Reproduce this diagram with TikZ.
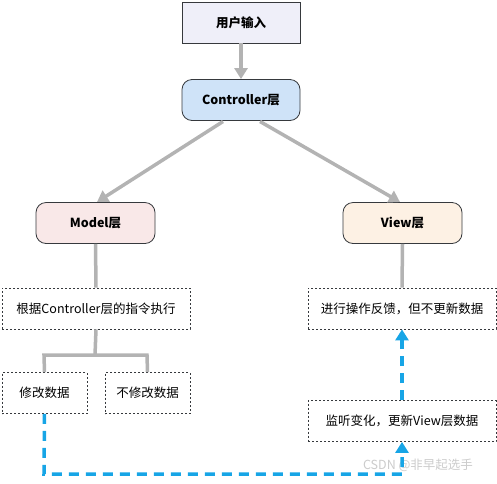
\documentclass[tikz,border=0pt]{standalone}
\usepackage{fontspec}
\setmainfont{Noto Sans CJK SC}
\usetikzlibrary{arrows.meta,calc}
\definecolor{conn}{HTML}{B3B3B3}
\definecolor{blu}{HTML}{17A5E6}
\definecolor{bord}{HTML}{36393D}
\definecolor{fuser}{HTML}{EFEFF9}
\definecolor{fctrl}{HTML}{CFE3F8}
\definecolor{fmodel}{HTML}{F9E8E8}
\definecolor{fview}{HTML}{FDF1E4}
\tikzset{
  box/.style={draw=bord, line width=0.8pt, minimum height=41pt, inner sep=0pt, font=\fontsize{12.5}{14}\selectfont\bfseries},
  rbox/.style={box, rounded corners=10pt},
  dbox/.style={draw=bord, line width=0.8pt, dash pattern=on 2pt off 2pt, minimum height=41pt, inner sep=0pt, font=\fontsize{12.5}{14}\selectfont},
  gline/.style={draw=conn, line width=3.5pt},
  garrow/.style={gline, -{Triangle[length=11pt,width=13pt]}},
  bline/.style={draw=blu, line width=3.5pt, dash pattern=on 10pt off 7pt},
  barrow/.style={bline, -{Triangle[length=11pt,width=13pt]}},
}
\begin{document}
\begin{tikzpicture}[x=1pt,y=-1pt]
\useasboundingbox (0,0) rectangle (497,483);
\node[box, fill=fuser, minimum width=118pt] (user) at (241,22.5) {用户输入};
\node[rbox, fill=fctrl, minimum width=118pt] (ctrl) at (241,100) {Controller层};
\node[rbox, fill=fmodel, minimum width=119pt] (model) at (95.5,223) {Model层};
\node[rbox, fill=fview, minimum width=119pt] (view) at (402.5,223) {View层};
\node[dbox, minimum width=188pt] (exec) at (96,308.5) {根据Controller层的指令执行};
\node[dbox, minimum width=188pt] (feed) at (402,308.5) {进行操作反馈，但不更新数据};
\node[dbox, minimum width=85pt] (mod) at (44.5,393) {修改数据};
\node[dbox, minimum width=85pt] (nomod) at (147.5,393) {不修改数据};
\node[dbox, minimum width=188pt] (listen) at (402,421) {监听变化，更新View层数据};
\node[text=black!25, opacity=0.8, font=\fontsize{12.5}{14}\selectfont, inner sep=0pt] (wm) at (418,465) {CSDN @非早起选手};
\coordinate (cl) at (223,121.5);
\coordinate (cr) at (260,121.5);
\coordinate (mt) at (97,202);
\coordinate (vt) at (400,202);
\coordinate (br) at (95,355);
\coordinate (bl) at (44,355);
\coordinate (bR) at (147,355);
\coordinate (bcorner) at (44,474);
\coordinate (bend) at (402,474);
\draw[garrow] (user.south) -- (ctrl.north);
\draw[garrow] (cl) -- (mt);
\draw[garrow] (cr) -- (vt);
\draw[gline] (model.south) -- (exec.north);
\draw[gline] (view.south) -- (feed.north);
\draw[gline] (exec.south) -- (br);
\draw[gline] (mod.north) -- (bl) -- (bR) -- (nomod.north);
\draw[barrow] (mod.south) -- (bcorner) -- (bend) -- (listen.south);
\draw[barrow] (listen.north) -- (feed.south);
\end{tikzpicture}
\end{document}
